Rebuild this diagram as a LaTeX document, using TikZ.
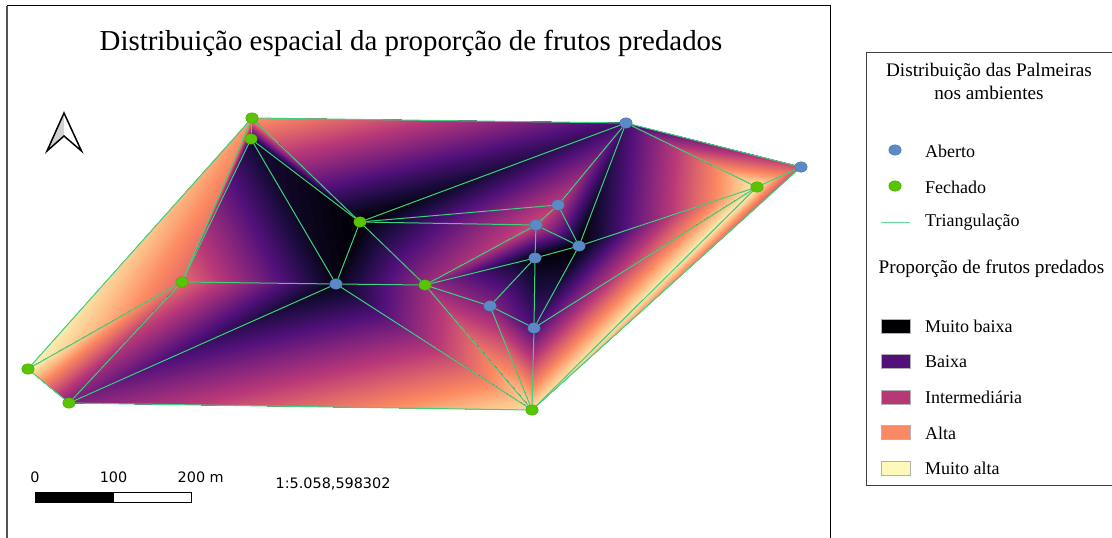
\documentclass[tikz,border=0pt]{standalone}
\usepackage{fontspec}
\setmainfont{Liberation Serif}
\newfontfamily\dvfont{DejaVu Sans}
\usetikzlibrary{shapes.geometric}
\pgfdeclarelayer{fills}
\pgfdeclarelayer{edges}
\pgfsetlayers{fills,edges,main}
% ---- colour ramp
\newcount\cT
\def\mkseg#1#2#3#4#5#6#7#8{%
  \cT=#7\relax
  \loop\ifnum\cT<#8\relax
    \definecolor{mc\the\cT}{RGB}{%
      \the\numexpr#1+(#4-#1)*(\cT-#7)/(#8-#7)\relax,%
      \the\numexpr#2+(#5-#2)*(\cT-#7)/(#8-#7)\relax,%
      \the\numexpr#3+(#6-#3)*(\cT-#7)/(#8-#7)\relax}%
    \advance\cT 1\relax
  \repeat}
\mkseg{0}{0}{4}{29}{12}{65}{0}{12}
\mkseg{29}{12}{65}{81}{16}{122}{12}{25}
\mkseg{81}{16}{122}{131}{36}{124}{25}{37}
\mkseg{131}{36}{124}{183}{55}{121}{37}{50}
\mkseg{183}{55}{121}{218}{96}{109}{50}{62}
\mkseg{218}{96}{109}{252}{137}{97}{62}{75}
\mkseg{252}{137}{97}{253}{196}{140}{75}{87}
\mkseg{253}{196}{140}{252}{253}{191}{87}{101}
% ---- linear surface on a triangle, painted as nested bands
\newcount\tT
\def\lerp#1#2#3#4{\numexpr#1*65536+(#2-#1)*65536*#3/#4\relax sp}
\def\swapab{\let\tmp\pa\let\pa\pb\let\pb\tmp}
\def\swapbc{\let\tmp\pb\let\pb\pc\let\pc\tmp}
\def\Vv#1{\csname v#1\endcsname}
\def\doband{%
  \edef\cn{mc\the\tT}%
  \begin{pgfscope}\pgfsetfillcolor{\cn}%
  \ifnum\tT>\vb\relax
    \pgfpathmoveto{\pgfqpoint{\lerp\xb\xc{(\tT-\vb)}{(\vc-\vb)}}{-\lerp\yb\yc{(\tT-\vb)}{(\vc-\vb)}}}%
  \else
    \pgfpathmoveto{\pgfqpoint{\lerp\xa\xb{(\tT-\va)}{(\vb-\va)}}{-\lerp\ya\yb{(\tT-\va)}{(\vb-\va)}}}%
    \pgfpathlineto{\pgfqpoint{\xb pt}{-\yb pt}}%
  \fi
  \pgfpathlineto{\pgfqpoint{\xc pt}{-\yc pt}}%
  \pgfpathlineto{\pgfqpoint{\lerp\xa\xc{(\tT-\va)}{(\vc-\va)}}{-\lerp\ya\yc{(\tT-\va)}{(\vc-\va)}}}%
  \pgfpathclose\pgfusepath{fill}%
  \end{pgfscope}}
\def\bandloop{\ifnum\tT>\vc\relax\else\doband\advance\tT 1\relax\expandafter\bandloop\fi}
\def\tri#1#2#3{%
  \edef\pa{#1}\edef\pb{#2}\edef\pc{#3}%
  \ifnum\Vv\pa>\Vv\pb\relax\swapab\fi
  \ifnum\Vv\pb>\Vv\pc\relax\swapbc\fi
  \ifnum\Vv\pa>\Vv\pb\relax\swapab\fi
  \edef\xa{\csname x\pa\endcsname}\edef\ya{\csname y\pa\endcsname}\edef\va{\csname v\pa\endcsname}%
  \edef\xb{\csname x\pb\endcsname}\edef\yb{\csname y\pb\endcsname}\edef\vb{\csname v\pb\endcsname}%
  \edef\xc{\csname x\pc\endcsname}\edef\yc{\csname y\pc\endcsname}\edef\vc{\csname v\pc\endcsname}%
  \edef\cn{mc\va}%
  \begin{pgfscope}\pgfsetfillcolor{\cn}%
  \pgfpathmoveto{\pgfqpoint{\xa pt}{-\ya pt}}\pgfpathlineto{\pgfqpoint{\xb pt}{-\yb pt}}\pgfpathlineto{\pgfqpoint{\xc pt}{-\yc pt}}\pgfpathclose\pgfusepath{fill}%
  \end{pgfscope}%
  \tT=\numexpr\va+1\relax
  \bandloop}
\definecolor{aberto}{HTML}{5B8BC6}
\definecolor{fechado}{HTML}{58C404}
\definecolor{tinline}{HTML}{3CD27E}
\definecolor{framegray}{HTML}{555555}
\tikzset{
  ab/.style={ellipse,draw=aberto!80!black,line width=0.3pt,fill=aberto,minimum width=12.5pt,minimum height=10.5pt,inner sep=0pt},
  fe/.style={ellipse,draw=fechado!80!black,line width=0.3pt,fill=fechado,minimum width=12.5pt,minimum height=10.5pt,inner sep=0pt},
  tinedge/.style={draw=tinline,line width=1pt},
  legtext/.style={font=\fontsize{18}{20}\selectfont,anchor=west,inner sep=0pt},
  legtitle/.style={font=\fontsize{19.2}{22}\selectfont,anchor=center,inner sep=0pt},
  swatch/.style={draw=black!30,line width=0.3pt,minimum width=29pt,minimum height=14pt,inner sep=0pt},
  scaletext/.style={font=\dvfont\fontsize{14.4}{16}\selectfont,inner sep=0pt},
}
\begin{document}
\begin{tikzpicture}[x=1pt,y=-1pt]
\useasboundingbox (0,0) rectangle (1112,538);
% vertices
\foreach \n/\x/\y/\v/\s in {
  A/252/118/78/fe, B/626/123/22/ab, C/801/167/58/ab, D/757/187/98/fe,
  E/251/139/10/fe, F/360/222/0/fe, G/558/205/52/ab, H/536/225/56/ab,
  I/579/246/0/ab, J/535/258/2/ab, K/425/285/42/fe, L/336/284/4/ab,
  M/182/282/66/fe, N/490/306/38/ab, O/534/328/24/ab, P/532/410/94/fe,
  Q/69/403/36/fe, R/28/369/100/fe}{
  \node[\s] (\n) at (\x,\y) {};
  \expandafter\xdef\csname x\n\endcsname{\x}%
  \expandafter\xdef\csname y\n\endcsname{\y}%
  \expandafter\xdef\csname v\n\endcsname{\v}%
}
\begin{pgfonlayer}{fills}
\tri ABF \tri AEF \tri AEM \tri AMR \tri RMQ \tri MQL \tri MEL \tri EFL
\tri FLK \tri FKH \tri FHG \tri FGB \tri BGI \tri GHI \tri HIJ \tri HJK
\tri KJN \tri JNO \tri JIO \tri IOD \tri BID \tri BDC \tri ODP \tri DPC
\tri NOP \tri KNP \tri LKP \tri QLP
\end{pgfonlayer}
\begin{pgfonlayer}{edges}
\foreach \a/\b in {A/B,B/C,C/D,C/P,D/P,D/O,D/I,D/B,B/I,B/G,B/F,G/F,G/H,G/I,H/I,H/J,H/F,H/K,
  J/I,J/K,J/N,J/O,I/O,N/O,N/K,N/P,O/P,L/P,K/P,Q/P,Q/L,Q/M,Q/R,R/M,R/A,A/M,A/E,A/F,E/M,E/F,E/L,
  F/L,F/K,L/K,M/L}
  \draw[tinedge] (\a) -- (\b);
\end{pgfonlayer}
% map frame
\draw[framegray,line width=1.6pt] (7,538) -- (7,5.5);
\draw[black,line width=0.8pt] (7,5.5) -- (830.5,5.5) -- (830.5,538);
\node[font=\fontsize{28.9}{32}\selectfont,inner sep=0pt] (title) at (411,43) {Distribuição espacial da proporção de frutos predados};
% north arrow
\fill[black!18] (64,113) -- (47,151) -- (64,136) -- cycle;
\draw[black,line width=1.5pt,line join=miter] (64,113) -- (47,151) -- (64,136) -- (81.5,151) -- cycle;
% scale bar
\fill[black] (35,492.5) rectangle (114,502.5);
\draw[black,line width=0.6pt] (35,492.5) rectangle (191.5,502.5);
\node[scaletext] (s0) at (35,477.5) {0};
\node[scaletext] (s1) at (113.5,477.5) {100};
\node[scaletext,anchor=west] (s2) at (177.5,477.5) {200 m};
\node[scaletext,anchor=west] (sc) at (275.5,484) {1:5.058,598302};
% legend
\draw[black!75,line width=0.9pt] (1112,52.5) -- (866.5,52.5) -- (866.5,485) -- (1112,485);
\node[legtitle] (lt1) at (989,71.5) {Distribuição das Palmeiras};
\node[legtitle] (lt2) at (989,93) {nos ambientes};
\node[ab] (la) at (895,150) {};
\node[fe] (lf) at (895,186) {};
\coordinate (ll1) at (881,222);
\coordinate (ll2) at (910,222);
\draw[draw=tinline!80!white,line width=0.7pt] (ll1) -- (ll2);
\node[legtext] (t1) at (925,151) {Aberto};
\node[legtext] (t2) at (925,187) {Fechado};
\node[legtext] (t3) at (925,222.5) {Triangulação};
\node[legtitle] (lt3) at (991.5,268.5) {Proporção de frutos predados};
\node[swatch,fill=mc0] (b1) at (895.5,326) {};
\node[swatch,fill=mc25] (b2) at (895.5,361.5) {};
\node[swatch,fill=mc50] (b3) at (895.5,397) {};
\node[swatch,fill=mc75] (b4) at (895.5,432.5) {};
\node[swatch,fill=mc100] (b5) at (895.5,468) {};
\node[legtext] (t4) at (925,326.5) {Muito baixa};
\node[legtext] (t5) at (925,362) {Baixa};
\node[legtext] (t6) at (925,397.5) {Intermediária};
\node[legtext] (t7) at (925,433) {Alta};
\node[legtext] (t8) at (925,468.5) {Muito alta};
\end{tikzpicture}
\end{document}
